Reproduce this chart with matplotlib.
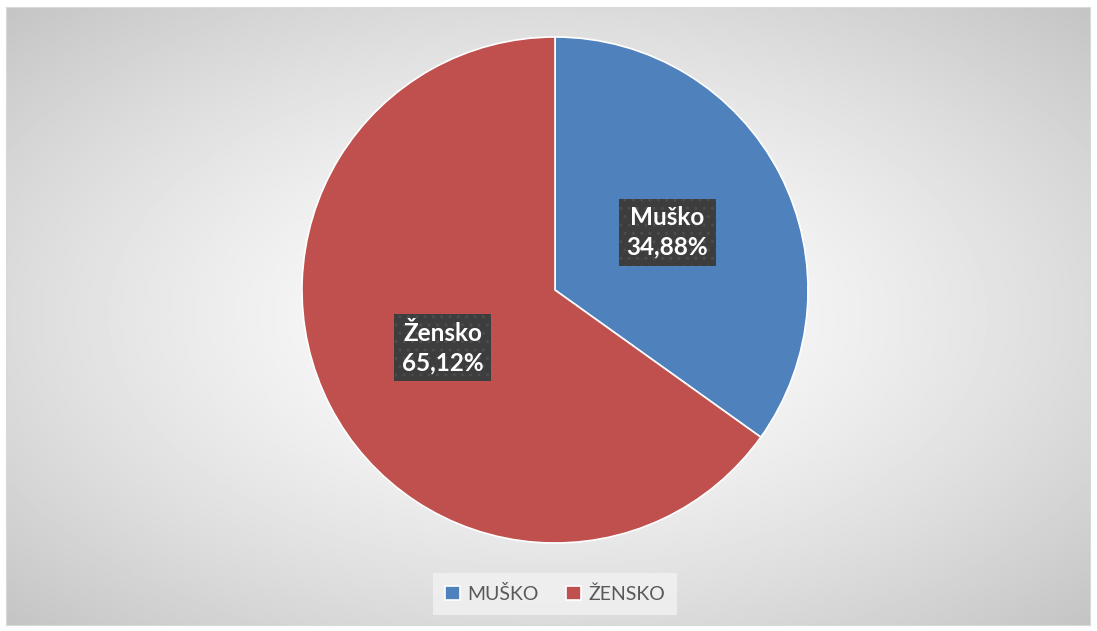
import numpy as np
import matplotlib.pyplot as plt

plt.rcParams['font.family'] = ['Lato', 'DejaVu Sans']

# podaci
kategorije = ["Muško", "Žensko"]
legenda = ["MUŠKO", "ŽENSKO"]
udjeli = [34.88, 65.12]
boje = ["#4F81BD", "#C0504D"]

W, H = 1097, 631
fig = plt.figure(figsize=(W / 100, H / 100), dpi=100)

# pozadina s radijalnim prijelazom
bg = fig.add_axes([6 / W, 1 - 625 / H, (1090 - 6) / W, (625 - 7) / H])
yy, xx = np.mgrid[-1:1:300j, -1:1:500j]
d = np.sqrt(xx ** 2 + yy ** 2) / np.sqrt(2)
siva = 1 - 0.23 * d ** 1.4
bg.imshow(siva, cmap="gray", vmin=0, vmax=1, aspect="auto", extent=(0, 1, 0, 1))
bg.set_xticks([])
bg.set_yticks([])
for s in bg.spines.values():
    s.set_color("#d9d9d9")
    s.set_linewidth(0.8)

# pita
ax = fig.add_axes([(555 - 253) / W, (H - 290 - 253) / H, 506 / W, 506 / H])
wedges, _ = ax.pie(udjeli, colors=boje, startangle=90, counterclock=False,
                   wedgeprops=dict(edgecolor="white", linewidth=1.2))
ax.set_xlim(-1, 1)
ax.set_ylim(-1, 1)
ax.set_aspect("equal")

plt.rcParams['hatch.color'] = '#4f4f4f'
for w, ime, p in zip(wedges, kategorije, udjeli):
    kut = np.deg2rad((w.theta1 + w.theta2) / 2)
    x, y = 0.5 * np.cos(kut), 0.5 * np.sin(kut)
    ax.text(x, y, f"{ime}\n{p:.2f}%".replace(".", ","), ha="center", va="center",
            color="white", fontsize=17.5, fontweight="bold", linespacing=1.35,
            bbox=dict(boxstyle="square,pad=0.3", fc="#3d3d3d", ec="#4c4c4c",
                      lw=0, hatch=".."))

# legenda
leg = fig.legend(wedges, legenda, loc="center", bbox_to_anchor=(555 / W, 1 - 594 / H),
                 ncol=2, frameon=True, fontsize=14, handlelength=0.75, handleheight=0.75,
                 handletextpad=0.4, columnspacing=1.4, borderpad=0.6, fancybox=False)
leg.get_frame().set_facecolor("#f2f2f2")
leg.get_frame().set_edgecolor("none")
for t in leg.get_texts():
    t.set_color("#595959")

fig.savefig("out.png", dpi=100)
